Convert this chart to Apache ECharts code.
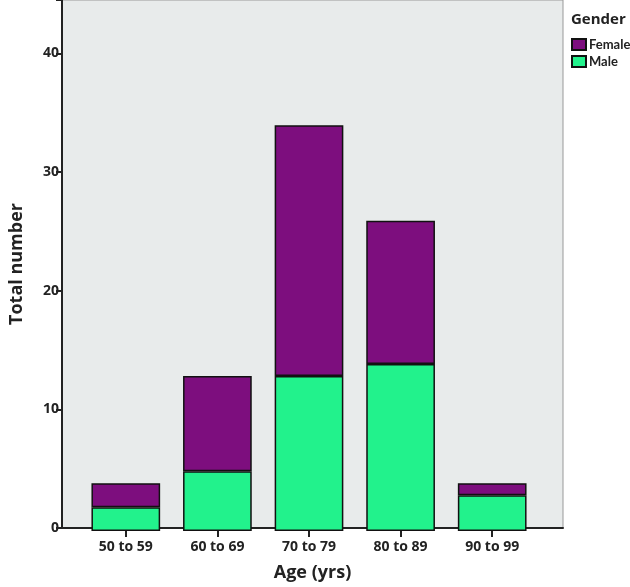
<!DOCTYPE html>
<html><head><meta charset="utf-8">
<script src="https://cdn.jsdelivr.net/npm/echarts@6/dist/echarts.min.js"></script>
<style>html,body{margin:0;padding:0;background:#fff}#c{width:630px;height:587px}</style>
</head><body><div id="c"></div>
<script>
const categories = ['50 to 59','60 to 69','70 to 79','80 to 89','90 to 99'];
const male = [2, 5, 13, 14, 3];
const female = [2, 8, 21, 12, 1];
const yTicks = [0, 10, 20, 30, 40];

const chart = echarts.init(document.getElementById('c'));
const font = 'Open Sans';
chart.setOption({
  animation: false,
  legend: {
    data: ['Female','Male'], orient: 'vertical', left: 566, top: 33,
    itemWidth: 14, itemHeight: 11, itemGap: 4,
    textStyle: {fontFamily: 'Lato', fontWeight: 'bold', fontSize: 13, color: '#222', padding: [0,0,0,-2]},
    icon: 'rect'
  },
  title: {text: 'Gender', left: 566, top: 7, textStyle: {fontFamily: font, fontWeight: 'bold', fontSize: 15, color: '#222'}},
  grid: [
    {left: 55, right: 67, top: 0, bottom: 56, show: true, backgroundColor: '#e8ebeb', borderColor: '#999', borderWidth: 1},
    {left: 80, right: 92, top: 0, bottom: 56}
  ],
  xAxis: [
    {gridIndex: 0, type: 'value', min: 0, max: 1, show: true,
      axisLine: {show: true, onZero: false, lineStyle: {color: '#222', width: 2}},
      axisTick: {show: false}, axisLabel: {show: false}, splitLine: {show: false},
      name: 'Age (yrs)', nameLocation: 'middle', nameGap: 36,
      nameTextStyle: {fontFamily: font, fontWeight: 'bold', fontSize: 18, color: '#222'}},
    {gridIndex: 1, type: 'category', data: categories,
      axisLine: {show: false}, axisTick: {show: true, alignWithLabel: true, length: 6, lineStyle: {color: '#222', width: 2}},
      axisLabel: {fontFamily: font, fontWeight: 'bold', fontSize: 14, color: '#222', margin: 9}}
  ],
  yAxis: [
    {gridIndex: 0, type: 'value', min: 0, max: 44.5, interval: 10,
      axisLine: {show: true, lineStyle: {color: '#222', width: 2}},
      axisTick: {show: true, length: 6, lineStyle: {color: '#222', width: 2}},
      axisLabel: {fontFamily: font, fontWeight: 'bold', fontSize: 14, color: '#222', margin: 3,
        formatter: v => yTicks.includes(v) ? String(v) : ''},
      splitLine: {show: false},
      name: 'Total number', nameLocation: 'middle', nameGap: 36,
      nameTextStyle: {fontFamily: font, fontWeight: 'bold', fontSize: 18, color: '#222'}},
    {gridIndex: 1, type: 'value', min: 0, max: 44.5, show: false}
  ],
  series: [
    {name: 'Male', type: 'bar', stack: 's', xAxisIndex: 1, yAxisIndex: 1, data: male, barWidth: '75%',
      itemStyle: {color: '#22f28c', borderColor: '#111', borderWidth: 1.5}},
    {name: 'Female', type: 'bar', stack: 's', xAxisIndex: 1, yAxisIndex: 1, data: female, barWidth: '75%',
      itemStyle: {color: '#7d0e7e', borderColor: '#111', borderWidth: 1.5}}
  ]
});
</script></body></html>
